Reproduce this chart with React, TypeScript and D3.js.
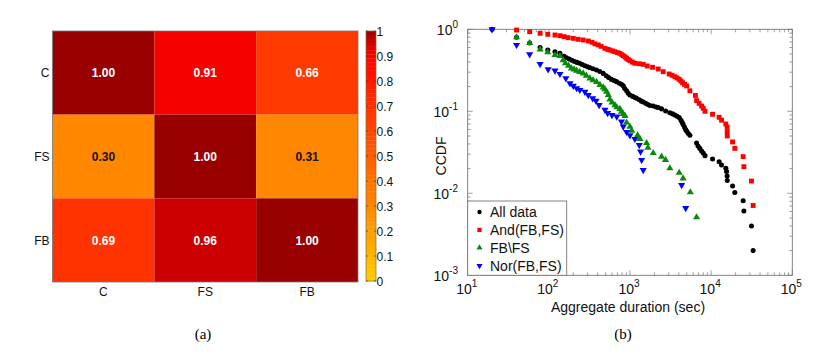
import React, {useEffect, useRef} from 'react';
import * as d3 from 'd3';

// heatmap (a)
const categories = ['C', 'FS', 'FB'];
const matrix = [
    [1.00, 0.91, 0.66],
    [0.30, 1.00, 0.31],
    [0.69, 0.96, 1.00],
];
const colorbarTicks = [0, 0.1, 0.2, 0.3, 0.4, 0.5, 0.6, 0.7, 0.8, 0.9, 1];

// ccdf (b), [duration sec, ccdf]
const allData = [
    [20, 1], [40, 0.8], [58, 0.68], [78, 0.6], [97, 0.56], [119, 0.533], [137, 0.51], [154, 0.47],
    [165, 0.45], [178, 0.435], [192, 0.42], [207, 0.405], [222, 0.395], [240, 0.385], [258, 0.372],
    [278, 0.36], [300, 0.35], [321, 0.34], [350, 0.33], [387, 0.319], [425, 0.305], [468, 0.29],
    [510, 0.272], [545, 0.258], [590, 0.245], [635, 0.237], [682, 0.23], [740, 0.22], [790, 0.212],
    [826, 0.205], [860, 0.19], [908, 0.178], [950, 0.166], [998, 0.158], [1080, 0.152], [1150, 0.147],
    [1205, 0.144], [1300, 0.138], [1380, 0.133], [1455, 0.13], [1560, 0.125], [1660, 0.121],
    [1760, 0.118], [1932, 0.116], [2100, 0.113], [2228, 0.111], [2450, 0.107], [2750, 0.101],
    [3097, 0.096], [3350, 0.093], [3574, 0.09], [3800, 0.087], [4038, 0.084], [4250, 0.078],
    [4400, 0.073], [4520, 0.069], [4700, 0.064], [4850, 0.06], [5000, 0.057], [5210, 0.054],
    [5470, 0.051], [6610, 0.041], [6890, 0.0378], [7245, 0.0353], [7620, 0.0328], [7985, 0.031],
    [8400, 0.0288], [10400, 0.0262], [12550, 0.0243], [13430, 0.0221], [15170, 0.0202],
    [15480, 0.0184], [15740, 0.0163], [15800, 0.0143], [18370, 0.0123], [19570, 0.0102],
    [24800, 0.0081], [25300, 0.0061], [31400, 0.004], [32900, 0.002],
];
const andFbFs = [
    [40, 0.98], [58, 0.935], [78, 0.894], [97, 0.869], [119, 0.852], [137, 0.836], [154, 0.813],
    [173, 0.79], [200, 0.776], [230, 0.755], [265, 0.741], [306, 0.72], [340, 0.695], [370, 0.665],
    [406, 0.645], [440, 0.62], [491, 0.586], [530, 0.57], [565, 0.559], [610, 0.545], [652, 0.533],
    [700, 0.52], [751, 0.509], [790, 0.49], [826, 0.476], [870, 0.46], [908, 0.443], [950, 0.428],
    [998, 0.414], [1070, 0.398], [1149, 0.385], [1300, 0.38], [1455, 0.374], [1630, 0.357],
    [1897, 0.344], [2228, 0.328], [2566, 0.304], [3042, 0.285], [3300, 0.275], [3574, 0.264],
    [3800, 0.255], [4038, 0.245], [4250, 0.234], [4443, 0.223], [4700, 0.213], [4977, 0.204],
    [5470, 0.178], [6400, 0.156], [6610, 0.135], [7110, 0.125], [7620, 0.116], [7985, 0.109],
    [8400, 0.1], [10400, 0.092], [12550, 0.0845], [13430, 0.078], [15170, 0.07], [15740, 0.064],
    [15760, 0.0565], [15800, 0.05], [18370, 0.0423], [19570, 0.0353], [24800, 0.028],
    [25300, 0.0211], [31400, 0.0141], [32900, 0.0071],
];
const fbNotFs = [
    [40, 0.8], [58, 0.68], [78, 0.57], [97, 0.525], [119, 0.486], [137, 0.472], [150, 0.42],
    [160, 0.385], [175, 0.36], [190, 0.334], [205, 0.325], [220, 0.313], [240, 0.302], [265, 0.29],
    [290, 0.272], [321, 0.252], [350, 0.24], [387, 0.228], [426, 0.21], [468, 0.196], [491, 0.186],
    [515, 0.173], [540, 0.158], [565, 0.14], [600, 0.128], [652, 0.119], [687, 0.112], [751, 0.107],
    [785, 0.099], [826, 0.093], [868, 0.088], [908, 0.073], [998, 0.065], [1050, 0.058],
    [1240, 0.051], [1325, 0.046], [1600, 0.041], [1665, 0.036], [1932, 0.031], [2450, 0.028],
    [2740, 0.0255], [3097, 0.0202], [4038, 0.0178], [4510, 0.0152], [5540, 0.0103], [6610, 0.0051],
];
const norFbFs = [
    [20, 1], [40, 0.644], [58, 0.494], [78, 0.377], [98, 0.325], [119, 0.313], [137, 0.285],
    [162, 0.252], [182, 0.219], [200, 0.204], [220, 0.191], [241, 0.182], [278, 0.173],
    [306, 0.158], [347, 0.144], [381, 0.134], [417, 0.119], [491, 0.104], [530, 0.095],
    [600, 0.09], [687, 0.086], [785, 0.075], [826, 0.065], [908, 0.056], [998, 0.051],
    [1149, 0.046], [1300, 0.0388], [1350, 0.0322], [1390, 0.0255], [1455, 0.0192],
    [4330, 0.0126], [4860, 0.0066],
];
const seriesNames = ['All data', 'And(FB,FS)', 'FB\\FS', 'Nor(FB,FS)'];
const xDecades = [1, 2, 3, 4, 5];
const yDecades = [-3, -2, -1, 0];

const FONT = '"Liberation Sans", Arial, Helvetica, sans-serif';

const App = () => {
    const svgRef = useRef(null);

    useEffect(() => {
        const svg = d3.select(svgRef.current);
        svg.selectAll('*').remove();

        // ---------- (a) heatmap ----------
        const hx = d3.scaleBand().domain(categories).range([52.5, 358]);
        const hy = d3.scaleBand().domain(categories).range([31, 282]);
        const color = d3.scaleLinear()
            .domain([0, 0.3, 0.66, 0.9, 0.96, 1])
            .range(['#ffcc00', '#ff8800', '#ff3a00', '#ff0000', '#cc0000', '#990000']);

        const cells = [];
        matrix.forEach((row, i) => row.forEach((v, j) => cells.push({r: categories[i], c: categories[j], v})));

        const heat = svg.append('g');
        heat.selectAll('rect.cell').data(cells).enter().append('rect')
            .attr('x', d => hx(d.c)).attr('y', d => hy(d.r))
            .attr('width', hx.bandwidth()).attr('height', hy.bandwidth())
            .attr('fill', d => color(d.v));
        heat.append('rect')
            .attr('x', 52.5).attr('y', 31).attr('width', 358 - 52.5).attr('height', 251)
            .attr('fill', 'none').attr('stroke', '#777').attr('stroke-width', 0.8);
        heat.selectAll('text.val').data(cells).enter().append('text')
            .attr('x', d => hx(d.c) + hx.bandwidth() / 2)
            .attr('y', d => hy(d.r) + hy.bandwidth() / 2 + 4.5)
            .attr('text-anchor', 'middle')
            .attr('font-family', FONT).attr('font-size', 12).attr('font-weight', 'bold')
            .attr('fill', d => d.v > 0.5 ? '#fff' : '#111')
            .text(d => d.v.toFixed(2));
        heat.selectAll('text.row').data(categories).enter().append('text')
            .attr('x', 49.5).attr('y', d => hy(d) + hy.bandwidth() / 2 + 4.5)
            .attr('text-anchor', 'end')
            .attr('font-family', FONT).attr('font-size', 12).attr('fill', '#111')
            .text(d => d);
        heat.selectAll('text.col').data(categories).enter().append('text')
            .attr('x', d => hx(d) + hx.bandwidth() / 2).attr('y', 295.5)
            .attr('text-anchor', 'middle')
            .attr('font-family', FONT).attr('font-size', 12).attr('fill', '#111')
            .text(d => d);

        // colorbar
        const cb = d3.scaleLinear().domain([0, 1]).range([281, 31]);
        const steps = d3.range(64).map(i => i / 64);
        heat.selectAll('rect.cb').data(steps).enter().append('rect')
            .attr('x', 366).attr('width', 10)
            .attr('y', d => cb(d + 1 / 64)).attr('height', cb(0) - cb(1 / 64) + 0.3)
            .attr('fill', d => color(d + 0.5 / 64));
        heat.append('rect')
            .attr('x', 366).attr('y', 31).attr('width', 10).attr('height', 250)
            .attr('fill', 'none').attr('stroke', '#8a6d2a').attr('stroke-width', 0.7);
        colorbarTicks.forEach(t => {
            heat.append('line').attr('x1', 366).attr('x2', 368).attr('y1', cb(t)).attr('y2', cb(t))
                .attr('stroke', '#333').attr('stroke-width', 0.6);
            heat.append('line').attr('x1', 374).attr('x2', 376).attr('y1', cb(t)).attr('y2', cb(t))
                .attr('stroke', '#333').attr('stroke-width', 0.6);
            heat.append('text').attr('x', 376.5).attr('y', cb(t) + 4.5)
                .attr('font-family', FONT).attr('font-size', 12).attr('fill', '#111')
                .text(d3.format('~g')(t));
        });

        // ---------- (b) ccdf ----------
        const x = d3.scaleLog().domain([10, 1e5]).range([467.7, 792.3]);
        const y = d3.scaleLog().domain([1e-3, 1]).range([275.3, 29.3]);
        const plot = svg.append('g');
        const [x0, x1] = x.range();
        const [y0, y1] = y.range();

        // minor + major ticks on all four sides
        const xTicks = x.ticks();
        const yTicks = y.ticks();
        xTicks.forEach(t => {
            const major = Math.abs(Math.log10(t) - Math.round(Math.log10(t))) < 1e-9;
            const len = major ? 5 : 3;
            plot.append('line').attr('x1', x(t)).attr('x2', x(t)).attr('y1', y0).attr('y2', y0 - len)
                .attr('stroke', '#777').attr('stroke-width', 0.7);
            plot.append('line').attr('x1', x(t)).attr('x2', x(t)).attr('y1', y1).attr('y2', y1 + len)
                .attr('stroke', '#777').attr('stroke-width', 0.7);
        });
        yTicks.forEach(t => {
            const major = Math.abs(Math.log10(t) - Math.round(Math.log10(t))) < 1e-9;
            const len = major ? 5 : 3;
            plot.append('line').attr('y1', y(t)).attr('y2', y(t)).attr('x1', x0).attr('x2', x0 + len)
                .attr('stroke', '#777').attr('stroke-width', 0.7);
            plot.append('line').attr('y1', y(t)).attr('y2', y(t)).attr('x1', x1).attr('x2', x1 - len)
                .attr('stroke', '#777').attr('stroke-width', 0.7);
        });
        plot.append('rect')
            .attr('x', x0).attr('y', y1).attr('width', x1 - x0).attr('height', y0 - y1)
            .attr('fill', 'none').attr('stroke', '#777').attr('stroke-width', 0.9);

        // tick labels 10^k
        xDecades.forEach(e => {
            const tx = plot.append('text').attr('x', x(Math.pow(10, e)) - 1).attr('y', 294)
                .attr('text-anchor', 'middle').attr('font-family', FONT).attr('font-size', 14).attr('fill', '#111');
            tx.append('tspan').text('10');
            tx.append('tspan').attr('dy', -7).attr('font-size', 10).text(e);
        });
        yDecades.forEach(e => {
            const ty = plot.append('text').attr('x', 458).attr('y', y(Math.pow(10, e)) + 6)
                .attr('text-anchor', 'end').attr('font-family', FONT).attr('font-size', 14).attr('fill', '#111');
            ty.append('tspan').text('10');
            ty.append('tspan').attr('dy', -7).attr('font-size', 10).text(e);
        });

        plot.append('text').attr('x', 628).attr('y', 312)
            .attr('text-anchor', 'middle').attr('font-family', FONT).attr('font-size', 14).attr('fill', '#111')
            .text('Aggregate duration (sec)');
        plot.append('text').attr('transform', 'translate(446,156) rotate(-90)')
            .attr('text-anchor', 'middle').attr('font-family', FONT).attr('font-size', 14).attr('fill', '#111')
            .text('CCDF');

        const styles = [
            {data: allData, fill: '#000', shape: d3.symbolCircle, size: 20, rot: 0},
            {data: andFbFs, fill: '#ff0000', shape: d3.symbolSquare, size: 24, rot: 0},
            {data: fbNotFs, fill: '#0a8a0a', shape: d3.symbolTriangle, size: 22, rot: 0},
            {data: norFbFs, fill: '#0000ff', shape: d3.symbolTriangle, size: 22, rot: 180},
        ];
        styles.forEach(s => {
            const sym = d3.symbol().type(s.shape).size(s.size);
            plot.append('g').selectAll('path').data(s.data).enter().append('path')
                .attr('d', sym)
                .attr('transform', d => `translate(${x(d[0])},${y(d[1])}) rotate(${s.rot})`)
                .attr('fill', s.fill);
        });

        // legend
        const lg = plot.append('g');
        lg.append('rect').attr('x', x0).attr('y', 201).attr('width', 99).attr('height', y0 - 201)
            .attr('fill', '#fff').attr('stroke', '#777').attr('stroke-width', 0.9);
        const rowY = d3.scalePoint().domain(seriesNames).range([212, 265.7]);
        seriesNames.forEach((name, i) => {
            const s = styles[i];
            lg.append('path')
                .attr('d', d3.symbol().type(s.shape).size(s.size * 0.75))
                .attr('transform', `translate(479.5,${rowY(name)}) rotate(${s.rot})`)
                .attr('fill', s.fill);
            lg.append('text').attr('x', 490).attr('y', rowY(name) + 5)
                .attr('font-family', FONT).attr('font-size', 14).attr('fill', '#111')
                .text(name);
        });

        // captions
        svg.append('text').attr('x', 203).attr('y', 339).attr('text-anchor', 'middle')
            .attr('font-family', '"Liberation Serif", "DejaVu Serif", serif').attr('font-size', 15)
            .text('(a)');
        svg.append('text').attr('x', 623).attr('y', 339).attr('text-anchor', 'middle')
            .attr('font-family', '"Liberation Serif", "DejaVu Serif", serif').attr('font-size', 15)
            .text('(b)');
    }, []);

    return (
        <svg ref={svgRef} width={831} height={361}
             style={{position: 'absolute', left: 0, top: 0, background: '#fff'}}/>
    );
};

export default App;
